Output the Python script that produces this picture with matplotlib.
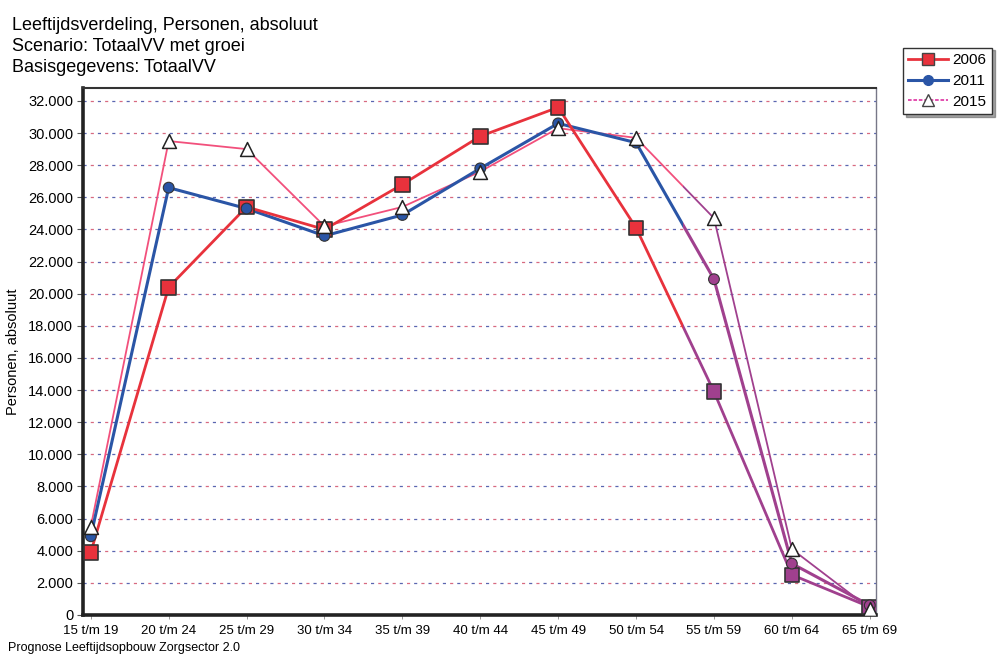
import matplotlib
matplotlib.use("Agg")
import matplotlib.pyplot as plt
from matplotlib.patches import Rectangle
from matplotlib.lines import Line2D
from matplotlib.ticker import FuncFormatter
import numpy as np

plt.rcParams['font.family'] = ['Liberation Sans', 'DejaVu Sans']

age_groups = ["15 t/m 19", "20 t/m 24", "25 t/m 29", "30 t/m 34", "35 t/m 39",
              "40 t/m 44", "45 t/m 49", "50 t/m 54", "55 t/m 59", "60 t/m 64",
              "65 t/m 69"]
pers_2006 = [3900, 20400, 25400, 24000, 26800, 29800, 31600, 24100, 13900, 2500, 500]
pers_2011 = [4900, 26600, 25300, 23600, 24900, 27800, 30600, 29400, 20900, 3200, 600]
pers_2015 = [5500, 29500, 29000, 24200, 25400, 27600, 30300, 29700, 24700, 4100, 400]
y_ticks = list(range(0, 32001, 2000))

red = '#e8323c'
blue = '#2a55a6'
pink = '#f2507c'
purple = '#a0408e'

fig = plt.figure(figsize=(10, 6.62), dpi=100)
ax = fig.add_axes([0.083, 0.071, 0.793, 0.796])

x = np.arange(len(age_groups))
xmin, xmax = -0.1, 10.08
ymin, ymax = 0, 32800
ax.set_xlim(xmin, xmax)
ax.set_ylim(ymin, ymax)

# dotted grid, alternating red/blue dashes
for yv in y_ticks[1:]:
    ax.axhline(yv, color='#5a66b0', lw=0.9, ls=(0, (2.5, 9)), zorder=1)
    ax.axhline(yv, color='#d86a80', lw=0.9, ls=(5.7, (2.5, 9)), zorder=1)

x_switch = 7.6

def draw_series(vals, color, lw, ls, z):
    for (c, x0, x1) in [(color, xmin, x_switch), (purple, x_switch, xmax)]:
        ln, = ax.plot(x, vals, color=c, lw=lw, ls=ls, zorder=z)
        clip = Rectangle((x0, ymin - 5000), x1 - x0, ymax + 10000,
                         transform=ax.transData)
        ln.set_clip_path(clip)

draw_series(pers_2015, pink, 1.3, '-', 3)
draw_series(pers_2011, blue, 2.2, '-', 4)
draw_series(pers_2006, red, 2.0, '-', 5)

# markers
sq_colors = [red if i < 8 else purple for i in x]
ci_colors = [blue if i < 8 else purple for i in x]
ax.scatter(x, pers_2006, marker='s', s=110, c=sq_colors, edgecolors='#333333',
           linewidths=1.2, zorder=6)
ax.scatter(x, pers_2011, marker='o', s=60, c=ci_colors, edgecolors='#333333',
           linewidths=0.8, zorder=7)
ax.scatter(x, pers_2015, marker='^', s=100, c='white', edgecolors='#222222',
           linewidths=1.1, zorder=8)

ax.set_xticks(x)
ax.set_xticklabels(age_groups, fontsize=9.5)
ax.set_yticks(y_ticks)
ax.yaxis.set_major_formatter(FuncFormatter(
    lambda v, p: f"{int(v):,}".replace(",", ".")))
ax.tick_params(axis='y', labelsize=10.5, length=4, width=0.8, color='#555555', pad=3)
ax.tick_params(axis='x', length=3, width=0.6, color='#888888', pad=4)
ax.set_ylabel("Personen, absoluut", fontsize=10.5, labelpad=6)

for s in ['left', 'bottom']:
    ax.spines[s].set_linewidth(2.6)
    ax.spines[s].set_color('#222222')
ax.spines['top'].set_linewidth(1.5)
ax.spines['top'].set_color('#333333')
ax.spines['right'].set_linewidth(1.0)
ax.spines['right'].set_color('#777788')

fig.text(0.012, 0.975, "Leeftijdsverdeling, Personen, absoluut", fontsize=13, va='top')
fig.text(0.012, 0.943, "Scenario: TotaalVV met groei", fontsize=13, va='top')
fig.text(0.012, 0.911, "Basisgegevens: TotaalVV", fontsize=13, va='top')
fig.text(0.008, 0.012, "Prognose Leeftijdsopbouw Zorgsector 2.0", fontsize=9, va='bottom')

handles = [
    Line2D([], [], color=red, lw=2, marker='s', markersize=8,
           markerfacecolor=red, markeredgecolor='#444444'),
    Line2D([], [], color=blue, lw=2.2, marker='o', markersize=7,
           markerfacecolor=blue, markeredgecolor=blue),
    Line2D([], [], color='#e040a8', lw=1.3, ls=(0, (2, 1)), marker='^', markersize=8,
           markerfacecolor='white', markeredgecolor='#444444'),
]
leg = fig.legend(handles, ["2006", "2011", "2015"], loc='upper left',
                 bbox_to_anchor=(0.903, 0.928), fontsize=11, frameon=True,
                 fancybox=False, shadow=True, handlelength=2.6,
                 borderpad=0.35, labelspacing=0.45, handletextpad=0.3,
                 borderaxespad=0)
leg.get_frame().set_edgecolor('#333333')
leg.get_frame().set_linewidth(1.0)

fig.savefig("out.png", dpi=100)
